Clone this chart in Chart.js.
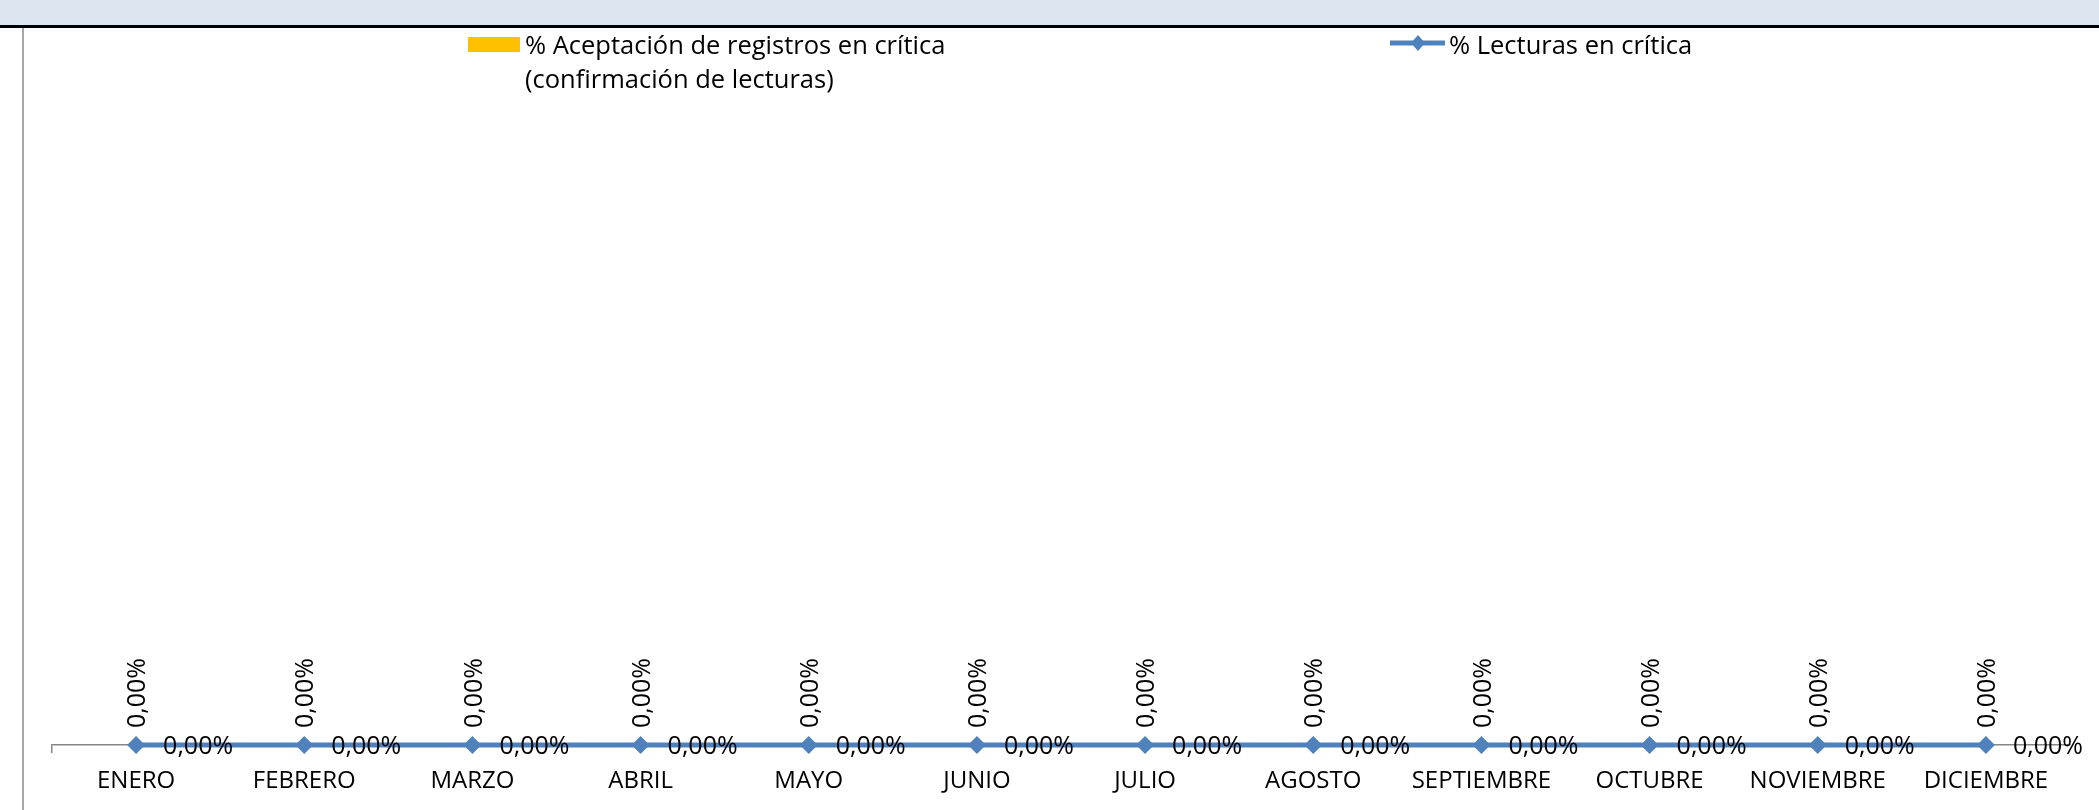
<!DOCTYPE html>
<html>
<head>
<meta charset="utf-8">
<script src="https://cdn.jsdelivr.net/npm/chart.js@4"></script>
<style>
  body { margin: 0; width: 2099px; height: 810px; overflow: hidden; background: #fff; position: relative; }
  #band { position: absolute; left: 0; top: 0; width: 2099px; height: 25px; background: #dce6f1; border-bottom: 3px solid #000; }
  #frame { position: absolute; left: 22px; top: 28px; width: 2px; height: 782px; background: #a6a6a6; }
  #wrap { position: absolute; left: 0; top: 28px; width: 2099px; height: 782px; }
</style>
</head>
<body>
<div id="band"></div>
<div id="frame"></div>
<div id="wrap"><canvas id="grafico"></canvas></div>
<script>
const meses = ["ENERO", "FEBRERO", "MARZO", "ABRIL", "MAYO", "JUNIO", "JULIO", "AGOSTO", "SEPTIEMBRE", "OCTUBRE", "NOVIEMBRE", "DICIEMBRE"]
const aceptacion = [0, 0, 0, 0, 0, 0, 0, 0, 0, 0, 0, 0]
const lecturas = [0, 0, 0, 0, 0, 0, 0, 0, 0, 0, 0, 0]
const nombreAceptacion = ["% Aceptación de registros en crítica", "(confirmación de lecturas)"]
const nombreLecturas = "% Lecturas en crítica"

const fuente = "'Open Sans', sans-serif"
const azul = "#4f81bd"
const amarillo = "#ffc000"
const gris = "#868686"

const pct = v => (v * 100).toFixed(2).replace(".", ",") + "%"

// etiquetas de datos y leyenda dibujadas a mano
const etiquetas = {
    id: "etiquetas",
    afterDatasetsDraw(chart) {
        const ctx = chart.ctx
        ctx.save()
        ctx.fillStyle = "#000"
        ctx.font = "25px " + fuente

        const barras = chart.getDatasetMeta(0)
        barras.data.forEach((el, i) => {
            ctx.save()
            ctx.translate(el.x + 2, el.y - 17)
            ctx.rotate(-Math.PI / 2)
            ctx.textAlign = "left"
            ctx.textBaseline = "middle"
            ctx.fillText(pct(aceptacion[i]), 0, 0)
            ctx.restore()
        })

        const linea = chart.getDatasetMeta(1)
        linea.data.forEach((el, i) => {
            ctx.textAlign = "left"
            ctx.textBaseline = "middle"
            ctx.fillText(pct(lecturas[i]), el.x + 27, el.y + 2)
        })

        // leyenda
        ctx.font = "25.5px " + fuente
        ctx.fillStyle = amarillo
        ctx.fillRect(468, 9, 52, 15)
        ctx.fillStyle = "#000"
        ctx.textBaseline = "alphabetic"
        ctx.fillText(nombreAceptacion[0], 525, 26)
        ctx.fillText(nombreAceptacion[1], 525, 60)

        ctx.strokeStyle = azul
        ctx.lineWidth = 5
        ctx.beginPath()
        ctx.moveTo(1390, 15)
        ctx.lineTo(1445, 15)
        ctx.stroke()
        ctx.fillStyle = azul
        ctx.beginPath()
        ctx.moveTo(1418, 7)
        ctx.lineTo(1425, 15)
        ctx.lineTo(1418, 23)
        ctx.lineTo(1411, 15)
        ctx.closePath()
        ctx.fill()
        ctx.fillStyle = "#000"
        ctx.fillText(nombreLecturas, 1449, 26)
        ctx.restore()
    }
}

new Chart("grafico", {
    type: "bar",
    data: {
        labels: meses,
        datasets: [{
            type: "bar",
            label: nombreAceptacion.join(" "),
            data: aceptacion,
            backgroundColor: amarillo,
            order: 2
        }, {
            type: "line",
            label: nombreLecturas,
            data: lecturas,
            borderColor: azul,
            backgroundColor: azul,
            borderWidth: 5,
            pointStyle: "rectRot",
            pointRadius: 9,
            pointHoverRadius: 9,
            pointBorderWidth: 0,
            clip: false,
            order: 1
        }]
    },
    options: {
        responsive: true,
        maintainAspectRatio: false,
        animation: false,
        events: [],
        layout: { padding: { left: 52, right: 29, top: 100 } },
        plugins: {
            legend: { display: false },
            tooltip: { enabled: false }
        },
        scales: {
            x: {
                offset: true,
                border: { display: true, color: gris, width: 1.5 },
                grid: {
                    display: true,
                    drawOnChartArea: false,
                    drawTicks: true,
                    tickLength: 8,
                    lineWidth: 1.5,
                    color: c => c.index === 0 ? gris : "rgba(0,0,0,0)"
                },
                ticks: {
                    autoSkip: false,
                    maxRotation: 0,
                    color: "#000",
                    padding: 14,
                    font: { family: fuente, size: 24 }
                },
                afterFit: s => { s.height = 65 }
            },
            y: {
                display: false,
                min: 0,
                max: 1
            }
        }
    },
    plugins: [etiquetas]
})
</script>
</body>
</html>
